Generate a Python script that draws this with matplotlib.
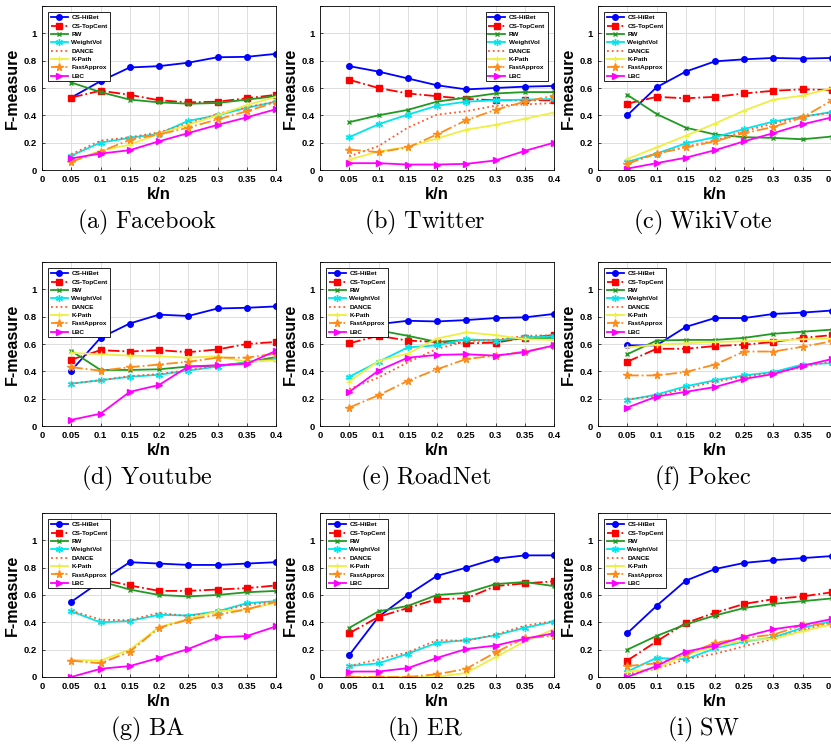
import numpy as np
import matplotlib.pyplot as plt

plt.rcParams['mathtext.fontset'] = 'cm'
plt.rcParams['font.family'] = 'Liberation Sans'

kn = [0.05, 0.1, 0.15, 0.2, 0.25, 0.3, 0.35, 0.4]
methods = ['CS-HiBet', 'CS-TopCent', 'RW', 'WeightVol', 'DANCE', 'K-Path', 'FastApprox', 'LBC']

# rows follow the order of methods
facebook = [
    [0.53, 0.65, 0.75, 0.76, 0.785, 0.825, 0.828, 0.85],
    [0.53, 0.58, 0.55, 0.51, 0.495, 0.50, 0.525, 0.55],
    [0.64, 0.57, 0.515, 0.495, 0.485, 0.49, 0.515, 0.54],
    [0.105, 0.20, 0.235, 0.265, 0.36, 0.40, 0.455, 0.50],
    [0.115, 0.215, 0.24, 0.275, 0.34, 0.41, 0.46, 0.50],
    [0.065, 0.14, 0.185, 0.265, 0.33, 0.40, 0.475, 0.535],
    [0.06, 0.135, 0.22, 0.26, 0.31, 0.37, 0.43, 0.495],
    [0.085, 0.12, 0.145, 0.21, 0.27, 0.33, 0.385, 0.445]]
twitter = [
    [0.76, 0.72, 0.67, 0.62, 0.59, 0.60, 0.61, 0.615],
    [0.66, 0.60, 0.56, 0.54, 0.52, 0.51, 0.51, 0.51],
    [0.35, 0.40, 0.44, 0.50, 0.53, 0.56, 0.57, 0.57],
    [0.24, 0.335, 0.405, 0.47, 0.50, 0.51, 0.515, 0.52],
    [0.10, 0.175, 0.31, 0.405, 0.43, 0.47, 0.48, 0.49],
    [0.075, 0.135, 0.17, 0.23, 0.295, 0.33, 0.375, 0.42],
    [0.15, 0.13, 0.165, 0.26, 0.365, 0.44, 0.50, 0.545],
    [0.05, 0.05, 0.04, 0.04, 0.045, 0.07, 0.14, 0.20]]
wikivote = [
    [0.40, 0.605, 0.72, 0.795, 0.81, 0.82, 0.815, 0.82],
    [0.485, 0.535, 0.525, 0.535, 0.56, 0.58, 0.59, 0.585],
    [0.55, 0.41, 0.31, 0.26, 0.24, 0.235, 0.225, 0.245],
    [0.06, 0.12, 0.195, 0.24, 0.30, 0.355, 0.39, 0.425],
    [0.05, 0.12, 0.17, 0.215, 0.285, 0.34, 0.39, 0.42],
    [0.08, 0.165, 0.25, 0.34, 0.435, 0.515, 0.545, 0.60],
    [0.045, 0.12, 0.165, 0.21, 0.27, 0.315, 0.385, 0.51],
    [0.01, 0.05, 0.09, 0.145, 0.21, 0.27, 0.335, 0.385]]
youtube = [
    [0.405, 0.645, 0.75, 0.815, 0.805, 0.86, 0.865, 0.875],
    [0.485, 0.555, 0.545, 0.555, 0.54, 0.56, 0.60, 0.615],
    [0.55, 0.41, 0.41, 0.415, 0.435, 0.44, 0.465, 0.505],
    [0.31, 0.335, 0.36, 0.375, 0.405, 0.435, 0.465, 0.49],
    [0.31, 0.335, 0.365, 0.38, 0.41, 0.44, 0.46, 0.50],
    [0.535, 0.525, 0.515, 0.51, 0.50, 0.51, 0.47, 0.48],
    [0.43, 0.405, 0.43, 0.45, 0.47, 0.50, 0.50, 0.53],
    [0.045, 0.09, 0.25, 0.30, 0.435, 0.445, 0.455, 0.55]]
roadnet = [
    [0.73, 0.745, 0.77, 0.765, 0.775, 0.79, 0.795, 0.82],
    [0.605, 0.66, 0.625, 0.615, 0.605, 0.61, 0.645, 0.665],
    [0.74, 0.70, 0.66, 0.615, 0.63, 0.625, 0.64, 0.645],
    [0.36, 0.47, 0.575, 0.59, 0.635, 0.625, 0.65, 0.655],
    [0.27, 0.355, 0.465, 0.565, 0.62, 0.63, 0.66, 0.665],
    [0.325, 0.475, 0.53, 0.64, 0.685, 0.665, 0.635, 0.63],
    [0.135, 0.225, 0.33, 0.415, 0.49, 0.515, 0.545, 0.585],
    [0.25, 0.405, 0.50, 0.52, 0.525, 0.515, 0.54, 0.59]]
pokec = [
    [0.59, 0.59, 0.725, 0.79, 0.79, 0.82, 0.83, 0.845],
    [0.47, 0.565, 0.565, 0.585, 0.595, 0.615, 0.645, 0.665],
    [0.525, 0.625, 0.63, 0.63, 0.645, 0.675, 0.69, 0.705],
    [0.19, 0.23, 0.29, 0.335, 0.37, 0.395, 0.45, 0.46],
    [0.195, 0.22, 0.275, 0.325, 0.36, 0.39, 0.43, 0.475],
    [0.575, 0.595, 0.605, 0.615, 0.62, 0.625, 0.635, 0.64],
    [0.37, 0.37, 0.395, 0.45, 0.545, 0.545, 0.58, 0.62],
    [0.135, 0.215, 0.25, 0.285, 0.345, 0.38, 0.44, 0.49]]
ba = [
    [0.55, 0.70, 0.84, 0.83, 0.82, 0.82, 0.83, 0.84],
    [0.74, 0.715, 0.67, 0.63, 0.63, 0.64, 0.65, 0.67],
    [0.72, 0.70, 0.64, 0.60, 0.59, 0.60, 0.62, 0.63],
    [0.48, 0.40, 0.41, 0.455, 0.45, 0.48, 0.54, 0.555],
    [0.485, 0.42, 0.415, 0.47, 0.445, 0.475, 0.53, 0.55],
    [0.125, 0.12, 0.20, 0.365, 0.425, 0.48, 0.495, 0.545],
    [0.12, 0.10, 0.185, 0.36, 0.42, 0.455, 0.495, 0.55],
    [0.0, 0.06, 0.08, 0.14, 0.205, 0.29, 0.30, 0.37]]
er = [
    [0.16, 0.44, 0.60, 0.74, 0.80, 0.865, 0.89, 0.89],
    [0.32, 0.44, 0.505, 0.57, 0.575, 0.665, 0.685, 0.70],
    [0.36, 0.48, 0.52, 0.60, 0.615, 0.68, 0.695, 0.665],
    [0.08, 0.10, 0.17, 0.25, 0.27, 0.305, 0.36, 0.405],
    [0.08, 0.13, 0.18, 0.27, 0.265, 0.31, 0.375, 0.41],
    [0.0, 0.0, 0.0, 0.0, 0.03, 0.145, 0.26, 0.35],
    [0.0, 0.0, 0.0, 0.02, 0.06, 0.18, 0.285, 0.30],
    [0.04, 0.04, 0.065, 0.14, 0.205, 0.23, 0.28, 0.32]]
sw = [
    [0.32, 0.52, 0.705, 0.79, 0.835, 0.855, 0.87, 0.885],
    [0.12, 0.26, 0.395, 0.47, 0.535, 0.57, 0.59, 0.62],
    [0.20, 0.30, 0.385, 0.45, 0.505, 0.535, 0.555, 0.575],
    [0.04, 0.14, 0.13, 0.21, 0.26, 0.29, 0.36, 0.41],
    [0.02, 0.06, 0.13, 0.17, 0.225, 0.28, 0.345, 0.40],
    [0.04, 0.06, 0.165, 0.22, 0.27, 0.28, 0.335, 0.385],
    [0.08, 0.10, 0.165, 0.25, 0.285, 0.31, 0.38, 0.39],
    [0.0, 0.08, 0.185, 0.23, 0.295, 0.35, 0.38, 0.425]]

panels = [facebook, twitter, wikivote, youtube, roadnet, pokec, ba, er, sw]
captions = ['(a) Facebook', '(b) Twitter', '(c) WikiVote', '(d) Youtube', '(e) RoadNet',
            '(f) Pokec', '(g) BA', '(h) ER', '(i) SW']

colors = ['#0000ff', '#ff0000', '#229922', '#00e5ee', '#ff5a2a', '#eeee44', '#ff8c1a', '#ff00ff']
styles = ['-', '-.', '-', '-', ':', '-', '-.', '-']
marks = ['o', 's', 'x', (6, 2, 0), None, '+', '*', '>']
msize = [4, 4, 3.5, 5, 0, 5, 5.5, 4]

W, H = 831, 747
fig = plt.figure(figsize=(W / 100, H / 100), dpi=100)

lefts = [42, 320, 598]
tops = [6, 262, 513]
aw, ah = 234, 164

for i, data in enumerate(panels):
    r, c = divmod(i, 3)
    ax = fig.add_axes([lefts[c] / W, 1 - (tops[r] + ah) / H, aw / W, ah / H])
    for j, name in enumerate(methods):
        ax.plot(kn, data[j], color=colors[j], linestyle=styles[j], marker=marks[j],
                markersize=msize[j], linewidth=1.3, label=name,
                markeredgewidth=1.0)
    ax.set_xlim(0, 0.4)
    ax.set_ylim(0, 1.2)
    ax.set_xticks([0] + kn)
    ax.set_xticklabels(['0', '0.05', '0.1', '0.15', '0.2', '0.25', '0.3', '0.35', '0.4'])
    ax.set_yticks([0, 0.2, 0.4, 0.6, 0.8, 1.0, 1.2])
    ax.set_yticklabels(['0', '0.2', '0.4', '0.6', '0.8', '1', ''])
    ax.grid(True, color='#dddddd', linewidth=0.7)
    ax.set_axisbelow(True)
    ax.tick_params(direction='in', length=2, width=0.5, labelsize=6.8, pad=3.5)
    for lab in ax.get_xticklabels() + ax.get_yticklabels():
        lab.set_fontweight('bold')
    for s in ax.spines.values():
        s.set_linewidth(0.6)
    ax.set_xlabel('k/n', fontsize=12, fontweight='bold', labelpad=2)
    ax.set_ylabel('F-measure', fontsize=11.5, fontweight='bold', labelpad=3)
    loc = 'upper right' if i == 1 else 'upper left'
    leg = ax.legend(loc=loc, prop={'weight': 'bold', 'size': 4.6},
                    frameon=True, fancybox=False, edgecolor='black', framealpha=1,
                    handlelength=2.6, handletextpad=0.6, labelspacing=0.45,
                    borderpad=0.4, borderaxespad=1.0)
    leg.get_frame().set_linewidth(0.6)
    fig.text((lefts[c] + aw * 0.45) / W, 1 - (tops[r] + ah + 52) / H, '$\\mathrm{' +
             captions[i].replace(' ', '\\ ') + '}$', fontsize=17.5, ha='center', va='center')

fig.savefig('out.png', dpi=100)
